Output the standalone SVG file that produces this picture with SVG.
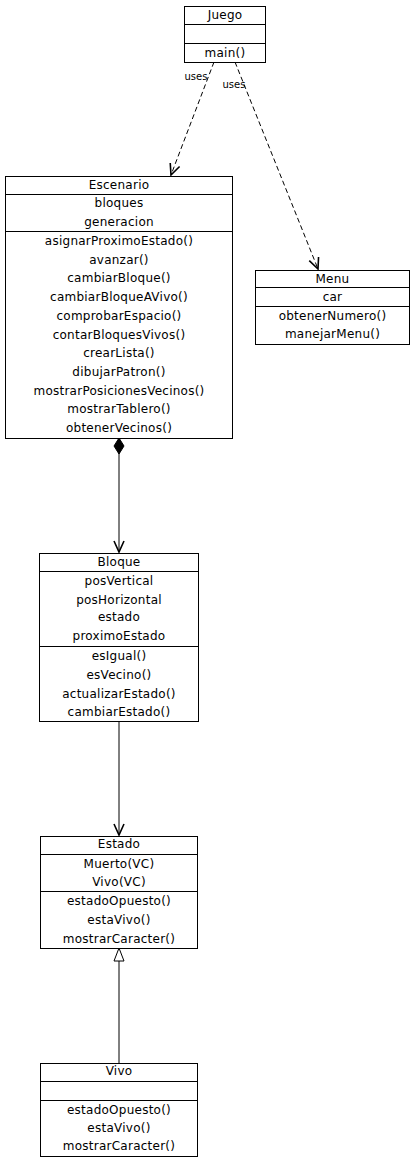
<svg xmlns="http://www.w3.org/2000/svg" width="414" height="1163" viewBox="0 0 414 1163">
<style>
rect.box{fill:#fff;stroke:#000;stroke-width:1}
line.sep{stroke:#000;stroke-width:1}
text{font-family:"DejaVu Sans",sans-serif;font-size:12px;fill:#000;text-anchor:middle;letter-spacing:0.25px}
text.lbl{font-size:10px;letter-spacing:0}
.edge{stroke:#000;stroke-width:1;fill:none}
.dash{stroke-dasharray:5,3}
</style>
<defs>
<marker id="vee" viewBox="-12 -7 14 14" refX="0" refY="0" markerWidth="14" markerHeight="14" markerUnits="userSpaceOnUse" orient="auto">
<path d="M-11,-5 L0,0 L-11,5" fill="none" stroke="#000" stroke-width="1.6"/>
</marker>
<marker id="diamond" viewBox="-1 -7 19 14" refX="0" refY="0" markerWidth="19" markerHeight="14" markerUnits="userSpaceOnUse" orient="auto">
<path d="M0,0 L8,-5 L16,0 L8,5 Z" fill="#000" stroke="#000"/>
</marker>
<marker id="tri" viewBox="-15 -7 16 14" refX="0" refY="0" markerWidth="16" markerHeight="14" markerUnits="userSpaceOnUse" orient="auto">
<path d="M0,0 L-13,-5 L-13,5 Z" fill="#fff" stroke="#000"/>
</marker>
</defs>

<g id="connectors">
<line class="edge dash" x1="214" y1="62" x2="171" y2="175" marker-end="url(#vee)"/>
<text class="lbl" x="196" y="80">uses</text>
<line class="edge dash" x1="235" y1="62" x2="318" y2="269" marker-end="url(#vee)"/>
<text class="lbl" x="234" y="88">uses</text>
<line class="edge" x1="119" y1="438" x2="119" y2="552" marker-start="url(#diamond)" marker-end="url(#vee)"/>
<line class="edge" x1="119" y1="721" x2="119" y2="835" marker-end="url(#vee)"/>
<line class="edge" x1="119" y1="1063" x2="119" y2="948" marker-end="url(#tri)"/>
</g>

<g id="Juego">
<rect class="box" x="184.5" y="6.5" width="81" height="56"/>
<line class="sep" x1="184.5" y1="24.5" x2="265.5" y2="24.5"/>
<line class="sep" x1="184.5" y1="43.5" x2="265.5" y2="43.5"/>
<text x="225" y="19">Juego</text>
<text x="225" y="57">main()</text>
</g>

<g id="Escenario">
<rect class="box" x="5.5" y="176.5" width="227" height="262"/>
<line class="sep" x1="5.5" y1="194.5" x2="232.5" y2="194.5"/>
<line class="sep" x1="5.5" y1="231.5" x2="232.5" y2="231.5"/>
<text x="119" y="189">Escenario</text>
<text x="119" y="207">bloques</text>
<text x="119" y="226">generacion</text>
<text x="119" y="245">asignarProximoEstado()</text>
<text x="119" y="263.7">avanzar()</text>
<text x="119" y="282.4">cambiarBloque()</text>
<text x="119" y="301.1">cambiarBloqueAVivo()</text>
<text x="119" y="319.8">comprobarEspacio()</text>
<text x="119" y="338.5">contarBloquesVivos()</text>
<text x="119" y="357.2">crearLista()</text>
<text x="119" y="375.9">dibujarPatron()</text>
<text x="119" y="394.6">mostrarPosicionesVecinos()</text>
<text x="119" y="413.3">mostrarTablero()</text>
<text x="119" y="432">obtenerVecinos()</text>
</g>

<g id="Menu">
<rect class="box" x="255.5" y="270.5" width="154" height="74"/>
<line class="sep" x1="255.5" y1="287.5" x2="409.5" y2="287.5"/>
<line class="sep" x1="255.5" y1="306.5" x2="409.5" y2="306.5"/>
<text x="332.5" y="283">Menu</text>
<text x="332.5" y="301">car</text>
<text x="332.5" y="320">obtenerNumero()</text>
<text x="332.5" y="338">manejarMenu()</text>
</g>

<g id="Bloque">
<rect class="box" x="39.5" y="553.5" width="159" height="168"/>
<line class="sep" x1="39.5" y1="571.5" x2="198.5" y2="571.5"/>
<line class="sep" x1="39.5" y1="646.5" x2="198.5" y2="646.5"/>
<text x="119" y="566">Bloque</text>
<text x="119" y="585">posVertical</text>
<text x="119" y="603.5">posHorizontal</text>
<text x="119" y="621">estado</text>
<text x="119" y="640">proximoEstado</text>
<text x="119" y="660">esIgual()</text>
<text x="119" y="679">esVecino()</text>
<text x="119" y="697.5">actualizarEstado()</text>
<text x="119" y="716">cambiarEstado()</text>
</g>

<g id="Estado">
<rect class="box" x="40.5" y="836.5" width="157" height="112"/>
<line class="sep" x1="40.5" y1="854.5" x2="197.5" y2="854.5"/>
<line class="sep" x1="40.5" y1="891.5" x2="197.5" y2="891.5"/>
<text x="119" y="848">Estado</text>
<text x="119" y="867.5">Muerto(VC)</text>
<text x="119" y="886">Vivo(VC)</text>
<text x="119" y="905">estadoOpuesto()</text>
<text x="119" y="923.5">estaVivo()</text>
<text x="119" y="942.5">mostrarCaracter()</text>
</g>

<g id="Vivo">
<rect class="box" x="40.5" y="1063.5" width="157" height="93"/>
<line class="sep" x1="40.5" y1="1081.5" x2="197.5" y2="1081.5"/>
<line class="sep" x1="40.5" y1="1100.5" x2="197.5" y2="1100.5"/>
<text x="119" y="1075">Vivo</text>
<text x="119" y="1113.5">estadoOpuesto()</text>
<text x="119" y="1131.5">estaVivo()</text>
<text x="119" y="1150">mostrarCaracter()</text>
</g>
</svg>
